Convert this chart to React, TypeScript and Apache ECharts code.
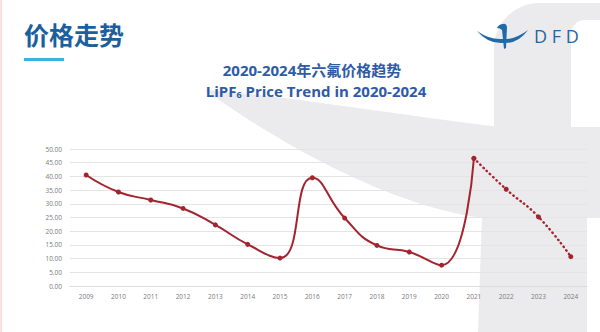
import React, { useEffect, useRef } from "react";
import * as echarts from "echarts";

const years = ["2009","2010","2011","2012","2013","2014","2015","2016","2017","2018","2019","2020","2021","2022","2023","2024"];
const actualPrices = [40.5, 34.3, 31.4, 28.3, 22.3, 15.2, 10.2, 39.5, 24.8, 14.8, 12.4, 7.6, 46.6];
const forecastPrices = [46.6, 35.3, 25.2, 10.7];
const yTicks = { min: 0, max: 50, interval: 5 };
const heading = "价格走势";
const titleLine1 = "2020-2024年六氟价格趋势";
const brandText = "D F D";

const WING =
  "M 205 90 C 280 95 420 118 500 127 L 500 222 L 482 218 C 380 205 260 130 205 90 Z";
const BIRD_WINGS =
  "M 477 31 Q 490 40 502 39 Q 515 40 528 30 Q 518 44 503 43 Q 488 44 477 31 Z";
const BIRD_BODY =
  "M 503 24 Q 506 23 507 27 L 506 48 L 504 49 L 502 30 Q 500 28 497 28 Q 499 24 503 24 Z";

let registered = false;
function registerShapes() {
  if (registered) return;
  registered = true;
  echarts.graphic.registerShape("wing", echarts.graphic.extendPath(WING, {}) as any);
  echarts.graphic.registerShape("birdWings", echarts.graphic.extendPath(BIRD_WINGS, {}) as any);
  echarts.graphic.registerShape("birdBody", echarts.graphic.extendPath(BIRD_BODY, {}) as any);
}

export default function App() {
  const ref = useRef<HTMLDivElement>(null);
  useEffect(() => {
    document.body.style.margin = "0";
    registerShapes();
    const chart = echarts.init(ref.current!, undefined, { renderer: "svg" });
    const n = years.length;
    const solid = years.map((_, i) => (i < actualPrices.length ? actualPrices[i] : null));
    const start = n - forecastPrices.length;
    const dotted = years.map((_, i) => (i >= start ? forecastPrices[i - start] : null));
    const red = "#a3232f";
    const wm = "#ebebee";
    const blue = "#2e5aa7";
    chart.setOption({
      animation: false,
      backgroundColor: "#ffffff",
      graphic: [
        { type: "wing", x: 0, y: 0, z: -10, silent: true, style: { fill: wm } },
        { type: "rect", z: -10, silent: true, shape: { x: 494, y: 3, width: 106, height: 125, r: [45, 0, 0, 0] }, style: { fill: wm } },
        { type: "rect", z: -9, silent: true, shape: { x: 571, y: 20, width: 29, height: 107, r: [14, 0, 0, 0] }, style: { fill: "#ffffff" } },
        { type: "rect", z: -10, silent: true, shape: { x: 494, y: 126, width: 106, height: 92 }, style: { fill: wm } },
        { type: "polygon", z: -10, silent: true, shape: { points: [[482, 216], [587, 216], [587, 332], [478, 332]] }, style: { fill: wm } },
        { type: "rect", shape: { x: 0, y: 0, width: 2, height: 332 }, z: -5, style: { fill: "#f7e1e1" } },
        { type: "text", left: 24, top: 21, style: { text: heading, fill: "#1c5f9d", font: "bold 25px 'Noto Sans CJK SC'" } },
        { type: "rect", shape: { x: 24, y: 58, width: 40, height: 3 }, style: { fill: "#3cb1e3" } },
        { type: "birdWings", x: 0, y: 0, style: { fill: "#1f6aa8" } },
        { type: "birdBody", x: 0, y: 0, style: { fill: "#1f6aa8" } },
        { type: "text", left: 534, top: 27, style: { text: brandText, fill: "#2366a6", font: "18px 'Open Sans'" } },
        {
          type: "text",
          x: 312,
          y: 62,
          style: {
            text: titleLine1,
            fill: blue,
            font: "bold 15px 'Open Sans', 'Noto Sans CJK SC'",
            align: "center",
          },
        },
        {
          type: "text",
          x: 316,
          y: 82,
          style: {
            text: "{a|LiPF}{s|6}{a| Price Trend in 2020-2024}",
            align: "center",
            fill: blue,
            rich: {
              a: { fill: blue, fontSize: 15, fontWeight: "bold", fontFamily: "Open Sans" },
              s: { fill: blue, fontSize: 9, fontWeight: "bold", fontFamily: "Open Sans", padding: [8, 0, 0, 0] },
            },
          },
        },
      ],
      grid: { left: 70, right: 13, top: 149, bottom: 46, containLabel: false },
      xAxis: {
        type: "category",
        data: years,
        boundaryGap: true,
        axisLine: { lineStyle: { color: "#dcdcdc" } },
        axisTick: { show: false },
        axisLabel: { color: "#7a7a7a", fontSize: 6.5, fontFamily: "Open Sans", margin: 7 },
      },
      yAxis: {
        type: "value",
        min: yTicks.min,
        max: yTicks.max,
        interval: yTicks.interval,
        axisLine: { show: false },
        axisTick: { show: false },
        splitLine: { lineStyle: { color: "#e4e4e4", width: 1 } },
        axisLabel: { color: "#7a7a7a", fontSize: 6.5, fontFamily: "Open Sans", margin: 8, formatter: (v: number) => v.toFixed(2) },
      },
      series: [
        {
          type: "line",
          data: solid,
          smooth: 0.5,
          symbol: "circle",
          symbolSize: 5,
          itemStyle: { color: red },
          lineStyle: { color: red, width: 2 },
          z: 3,
        },
        {
          type: "line",
          data: dotted,
          smooth: 0.5,
          symbol: "circle",
          symbolSize: 5,
          itemStyle: { color: red },
          lineStyle: { color: red, width: 2.4, type: [0.5, 4], cap: "round" },
          z: 3,
        },
      ],
    });
    return () => chart.dispose();
  }, []);
  return <div ref={ref} style={{ width: 600, height: 332 }} />;
}
